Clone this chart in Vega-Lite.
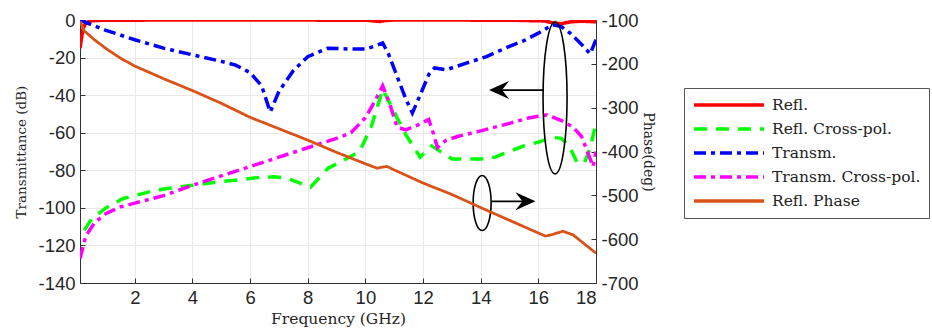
{
  "$schema": "https://vega.github.io/schema/vega-lite/v6.json",
  "width": 516,
  "height": 263,
  "padding": {"left": 14, "top": 11, "right": 0, "bottom": 0},
  "autosize": {"type": "pad"},
  "background": "white",
  "config": {
    "font": "Liberation Sans",
    "view": {"stroke": "#333333", "strokeWidth": 1},
    "axis": {
      "labelFont": "Liberation Sans",
      "labelFontSize": 18.5,
      "labelColor": "#262626",
      "labelOverlap": false,
      "labelExpr": "'' + datum.value",
      "titleFont": "DejaVu Serif",
      "titleFontSize": 14,
      "titleFontWeight": "normal",
      "titleColor": "#262626",
      "domainColor": "#333333",
      "tickColor": "#333333",
      "tickSize": -5,
      "labelPadding": 10,
      "gridColor": "#e9e9e9",
      "gridWidth": 1
    },
    "legend": {
      "labelFont": "DejaVu Serif",
      "labelFontSize": 15.5,
      "labelColor": "#222222"
    }
  },
  "datasets": {
    "left": [
      {"f": 0.1, "v": -15, "s": "Refl."},
      {"f": 0.2, "v": -5, "s": "Refl."},
      {"f": 0.3, "v": -1.5, "s": "Refl."},
      {"f": 0.5, "v": -0.4, "s": "Refl."},
      {"f": 1, "v": -0.1, "s": "Refl."},
      {"f": 5, "v": 0, "s": "Refl."},
      {"f": 10, "v": -0.1, "s": "Refl."},
      {"f": 10.5, "v": -0.8, "s": "Refl."},
      {"f": 10.7, "v": -0.3, "s": "Refl."},
      {"f": 11, "v": 0, "s": "Refl."},
      {"f": 15, "v": -0.1, "s": "Refl."},
      {"f": 16.2, "v": -0.5, "s": "Refl."},
      {"f": 16.5, "v": -1.5, "s": "Refl."},
      {"f": 16.8, "v": -2, "s": "Refl."},
      {"f": 17.1, "v": -1, "s": "Refl."},
      {"f": 17.5, "v": -0.6, "s": "Refl."},
      {"f": 18, "v": -1, "s": "Refl."},

      {"f": 0.25, "v": -112, "s": "Refl. Cross-pol."},
      {"f": 0.5, "v": -106, "s": "Refl. Cross-pol."},
      {"f": 1, "v": -100, "s": "Refl. Cross-pol."},
      {"f": 1.6, "v": -95, "s": "Refl. Cross-pol."},
      {"f": 2.5, "v": -91.5, "s": "Refl. Cross-pol."},
      {"f": 3, "v": -90, "s": "Refl. Cross-pol."},
      {"f": 4, "v": -88, "s": "Refl. Cross-pol."},
      {"f": 5, "v": -86, "s": "Refl. Cross-pol."},
      {"f": 5.7, "v": -85, "s": "Refl. Cross-pol."},
      {"f": 6.2, "v": -84, "s": "Refl. Cross-pol."},
      {"f": 6.8, "v": -83.5, "s": "Refl. Cross-pol."},
      {"f": 7.2, "v": -84, "s": "Refl. Cross-pol."},
      {"f": 7.6, "v": -86, "s": "Refl. Cross-pol."},
      {"f": 8.1, "v": -89, "s": "Refl. Cross-pol."},
      {"f": 8.7, "v": -79, "s": "Refl. Cross-pol."},
      {"f": 9.2, "v": -75, "s": "Refl. Cross-pol."},
      {"f": 9.8, "v": -70, "s": "Refl. Cross-pol."},
      {"f": 10.2, "v": -57, "s": "Refl. Cross-pol."},
      {"f": 10.6, "v": -37, "s": "Refl. Cross-pol."},
      {"f": 10.9, "v": -46, "s": "Refl. Cross-pol."},
      {"f": 11.4, "v": -61, "s": "Refl. Cross-pol."},
      {"f": 11.9, "v": -73, "s": "Refl. Cross-pol."},
      {"f": 12.3, "v": -67, "s": "Refl. Cross-pol."},
      {"f": 13, "v": -74, "s": "Refl. Cross-pol."},
      {"f": 14, "v": -74, "s": "Refl. Cross-pol."},
      {"f": 14.5, "v": -73, "s": "Refl. Cross-pol."},
      {"f": 15, "v": -70, "s": "Refl. Cross-pol."},
      {"f": 15.5, "v": -67, "s": "Refl. Cross-pol."},
      {"f": 16, "v": -65, "s": "Refl. Cross-pol."},
      {"f": 16.5, "v": -62.5, "s": "Refl. Cross-pol."},
      {"f": 16.8, "v": -63, "s": "Refl. Cross-pol."},
      {"f": 17.1, "v": -68, "s": "Refl. Cross-pol."},
      {"f": 17.35, "v": -76, "s": "Refl. Cross-pol."},
      {"f": 17.6, "v": -76, "s": "Refl. Cross-pol."},
      {"f": 17.8, "v": -68, "s": "Refl. Cross-pol."},
      {"f": 18, "v": -55, "s": "Refl. Cross-pol."},

      {"f": 0.1, "v": 0, "s": "Transm."},
      {"f": 0.5, "v": -2.5, "s": "Transm."},
      {"f": 1, "v": -5.5, "s": "Transm."},
      {"f": 2, "v": -10.5, "s": "Transm."},
      {"f": 3, "v": -15, "s": "Transm."},
      {"f": 4, "v": -18.5, "s": "Transm."},
      {"f": 5, "v": -22, "s": "Transm."},
      {"f": 5.5, "v": -24, "s": "Transm."},
      {"f": 6, "v": -28, "s": "Transm."},
      {"f": 6.4, "v": -35, "s": "Transm."},
      {"f": 6.7, "v": -49, "s": "Transm."},
      {"f": 7, "v": -38, "s": "Transm."},
      {"f": 7.5, "v": -27, "s": "Transm."},
      {"f": 8, "v": -19.5, "s": "Transm."},
      {"f": 8.7, "v": -15, "s": "Transm."},
      {"f": 9.5, "v": -15.5, "s": "Transm."},
      {"f": 10, "v": -15.5, "s": "Transm."},
      {"f": 10.4, "v": -13.5, "s": "Transm."},
      {"f": 10.6, "v": -12.2, "s": "Transm."},
      {"f": 10.8, "v": -18, "s": "Transm."},
      {"f": 11.1, "v": -30, "s": "Transm."},
      {"f": 11.4, "v": -42, "s": "Transm."},
      {"f": 11.63, "v": -49.5, "s": "Transm."},
      {"f": 11.9, "v": -40, "s": "Transm."},
      {"f": 12.2, "v": -29, "s": "Transm."},
      {"f": 12.4, "v": -25.5, "s": "Transm."},
      {"f": 12.8, "v": -26.5, "s": "Transm."},
      {"f": 13.5, "v": -23, "s": "Transm."},
      {"f": 14.2, "v": -19.5, "s": "Transm."},
      {"f": 15, "v": -14, "s": "Transm."},
      {"f": 15.5, "v": -11, "s": "Transm."},
      {"f": 16, "v": -7, "s": "Transm."},
      {"f": 16.5, "v": -2.5, "s": "Transm."},
      {"f": 16.8, "v": -3.5, "s": "Transm."},
      {"f": 17.1, "v": -7, "s": "Transm."},
      {"f": 17.5, "v": -13, "s": "Transm."},
      {"f": 17.8, "v": -18, "s": "Transm."},
      {"f": 18, "v": -10.5, "s": "Transm."},

      {"f": 0.1, "v": -127, "s": "Transm. Cross-pol."},
      {"f": 0.3, "v": -115, "s": "Transm. Cross-pol."},
      {"f": 0.6, "v": -108, "s": "Transm. Cross-pol."},
      {"f": 1, "v": -103, "s": "Transm. Cross-pol."},
      {"f": 1.5, "v": -99.5, "s": "Transm. Cross-pol."},
      {"f": 2, "v": -97.5, "s": "Transm. Cross-pol."},
      {"f": 3, "v": -93.5, "s": "Transm. Cross-pol."},
      {"f": 4, "v": -88, "s": "Transm. Cross-pol."},
      {"f": 5, "v": -83, "s": "Transm. Cross-pol."},
      {"f": 6, "v": -78, "s": "Transm. Cross-pol."},
      {"f": 7, "v": -73, "s": "Transm. Cross-pol."},
      {"f": 8, "v": -68, "s": "Transm. Cross-pol."},
      {"f": 9, "v": -63, "s": "Transm. Cross-pol."},
      {"f": 9.5, "v": -60, "s": "Transm. Cross-pol."},
      {"f": 10, "v": -52, "s": "Transm. Cross-pol."},
      {"f": 10.3, "v": -44, "s": "Transm. Cross-pol."},
      {"f": 10.6, "v": -35, "s": "Transm. Cross-pol."},
      {"f": 10.85, "v": -45, "s": "Transm. Cross-pol."},
      {"f": 11.1, "v": -57, "s": "Transm. Cross-pol."},
      {"f": 11.4, "v": -58.5, "s": "Transm. Cross-pol."},
      {"f": 11.8, "v": -56, "s": "Transm. Cross-pol."},
      {"f": 12.2, "v": -53, "s": "Transm. Cross-pol."},
      {"f": 12.35, "v": -60, "s": "Transm. Cross-pol."},
      {"f": 12.5, "v": -68, "s": "Transm. Cross-pol."},
      {"f": 12.8, "v": -64, "s": "Transm. Cross-pol."},
      {"f": 13.2, "v": -62, "s": "Transm. Cross-pol."},
      {"f": 14, "v": -59, "s": "Transm. Cross-pol."},
      {"f": 15, "v": -55, "s": "Transm. Cross-pol."},
      {"f": 15.7, "v": -52, "s": "Transm. Cross-pol."},
      {"f": 16.3, "v": -50.5, "s": "Transm. Cross-pol."},
      {"f": 16.8, "v": -53.5, "s": "Transm. Cross-pol."},
      {"f": 17.2, "v": -57, "s": "Transm. Cross-pol."},
      {"f": 17.5, "v": -62, "s": "Transm. Cross-pol."},
      {"f": 17.75, "v": -72, "s": "Transm. Cross-pol."},
      {"f": 17.9, "v": -78, "s": "Transm. Cross-pol."},
      {"f": 18, "v": -70, "s": "Transm. Cross-pol."}
    ],
    "phase": [
      {"f": 0.1, "v": -103, "s": "Refl. Phase"},
      {"f": 0.25, "v": -125, "s": "Refl. Phase"},
      {"f": 0.6, "v": -145, "s": "Refl. Phase"},
      {"f": 1, "v": -165, "s": "Refl. Phase"},
      {"f": 1.5, "v": -187, "s": "Refl. Phase"},
      {"f": 2, "v": -205, "s": "Refl. Phase"},
      {"f": 3, "v": -234, "s": "Refl. Phase"},
      {"f": 4, "v": -261, "s": "Refl. Phase"},
      {"f": 5, "v": -290, "s": "Refl. Phase"},
      {"f": 6, "v": -322, "s": "Refl. Phase"},
      {"f": 7, "v": -348, "s": "Refl. Phase"},
      {"f": 8, "v": -374, "s": "Refl. Phase"},
      {"f": 9, "v": -402, "s": "Refl. Phase"},
      {"f": 10, "v": -428, "s": "Refl. Phase"},
      {"f": 10.4, "v": -438, "s": "Refl. Phase"},
      {"f": 10.75, "v": -434, "s": "Refl. Phase"},
      {"f": 11, "v": -442, "s": "Refl. Phase"},
      {"f": 12, "v": -472, "s": "Refl. Phase"},
      {"f": 13, "v": -498, "s": "Refl. Phase"},
      {"f": 14, "v": -528, "s": "Refl. Phase"},
      {"f": 15, "v": -557, "s": "Refl. Phase"},
      {"f": 16, "v": -586, "s": "Refl. Phase"},
      {"f": 16.25, "v": -593, "s": "Refl. Phase"},
      {"f": 16.5, "v": -589, "s": "Refl. Phase"},
      {"f": 16.85, "v": -582, "s": "Refl. Phase"},
      {"f": 17.2, "v": -590, "s": "Refl. Phase"},
      {"f": 18, "v": -632, "s": "Refl. Phase"}
    ],
    "ellipses": [
      {"id": "big", "f": 16.58, "v": -41.5},
      {"id": "small", "f": 14.05, "v": -97.4}
    ],
    "arrows": [
      {"dir": "left", "f": 16.19, "f2": 14.6, "tip": 14.29, "v": -37.3},
      {"dir": "right", "f": 14.38, "f2": 15.5, "tip": 15.9, "v": -96.5}
    ]
  },
  "layer": [
    {
      "layer": [
        {
          "data": {"name": "left"},
          "mark": {"type": "line", "strokeWidth": 3.5, "clip": true},
          "encoding": {
            "x": {
              "field": "f", "type": "quantitative",
              "scale": {"domain": [0.1, 18], "nice": false, "zero": false},
              "axis": {"title": "Frequency (GHz)", "values": [2, 4, 6, 8, 10, 12, 14, 16, 18], "tickCount": 20, "grid": true, "titlePadding": 5, "titleFontSize": 15.5, "labelOverlap": false}
            },
            "y": {
              "field": "v", "type": "quantitative",
              "scale": {"domain": [-140, 0], "nice": false, "zero": false},
              "axis": {"title": "Transmittance (dB)", "values": [-140, -120, -100, -80, -60, -40, -20, 0], "tickCount": 20, "grid": true, "titlePadding": 9, "titleFontSize": 13.5, "labelOverlap": false}
            },
            "color": {
              "field": "s", "type": "nominal",
              "scale": {
                "domain": ["Refl.", "Refl. Cross-pol.", "Transm.", "Transm. Cross-pol.", "Refl. Phase"],
                "range": ["#ff0000", "#00ff00", "#0000ff", "#ff00ff", "#d95319"]
              },
              "legend": {
                "title": null,
                "orient": "none",
                "legendX": 604,
                "legendY": 68,
                "symbolType": "M-5,0L5,0",
                "symbolSize": 196,
                "symbolOffset": 28,
                "symbolStrokeWidth": 3.5,
                "strokeColor": "#555555",
                "fillColor": "white",
                "padding": 8,
                "rowPadding": 6,
                "labelOffset": 34
              }
            },
            "strokeDash": {
              "field": "s", "type": "nominal",
              "scale": {
                "domain": ["Refl.", "Refl. Cross-pol.", "Transm.", "Transm. Cross-pol.", "Refl. Phase"],
                "range": [[1, 0], [13, 9], [12, 5, 4, 5], [12, 5, 4, 5], [1, 0]]
              },
              "legend": {
                "title": null,
                "orient": "none",
                "legendX": 604,
                "legendY": 68,
                "symbolType": "M-5,0L5,0",
                "symbolSize": 196,
                "symbolOffset": 28,
                "symbolStrokeWidth": 3.5,
                "strokeColor": "#555555",
                "fillColor": "white",
                "padding": 8,
                "rowPadding": 6,
                "labelOffset": 34
              }
            },
            "order": {"field": "f", "type": "quantitative"}
          }
        },
        {
          "data": {"name": "ellipses"},
          "transform": [{"filter": "datum.id === 'big'"}],
          "mark": {"type": "point", "shape": "M0,-1A0.158,1,0,1,1,0,1A0.158,1,0,1,1,0,-1Z", "size": 23104, "stroke": "black", "strokeWidth": 1.6, "filled": false, "opacity": 1},
          "encoding": {
            "x": {"field": "f", "type": "quantitative"},
            "y": {"field": "v", "type": "quantitative"}
          }
        },
        {
          "data": {"name": "ellipses"},
          "transform": [{"filter": "datum.id === 'small'"}],
          "mark": {"type": "point", "shape": "M0,-1A0.327,1,0,1,1,0,1A0.327,1,0,1,1,0,-1Z", "size": 3025, "stroke": "black", "strokeWidth": 1.6, "filled": false, "opacity": 1},
          "encoding": {
            "x": {"field": "f", "type": "quantitative"},
            "y": {"field": "v", "type": "quantitative"}
          }
        },
        {
          "data": {"name": "arrows"},
          "mark": {"type": "rule", "stroke": "black", "strokeWidth": 1.8},
          "encoding": {
            "x": {"field": "f", "type": "quantitative"},
            "x2": {"field": "f2"},
            "y": {"field": "v", "type": "quantitative"}
          }
        },
        {
          "data": {"name": "arrows"},
          "transform": [{"filter": "datum.dir === 'left'"}],
          "mark": {"type": "point", "shape": "M0,0L1,-0.45L0.65,0L1,0.45Z", "size": 1600, "fill": "black", "filled": true, "opacity": 1, "strokeWidth": 0},
          "encoding": {
            "x": {"field": "tip", "type": "quantitative"},
            "y": {"field": "v", "type": "quantitative"}
          }
        },
        {
          "data": {"name": "arrows"},
          "transform": [{"filter": "datum.dir === 'right'"}],
          "mark": {"type": "point", "shape": "M0,0L-1,-0.45L-0.65,0L-1,0.45Z", "size": 1600, "fill": "black", "filled": true, "opacity": 1, "strokeWidth": 0},
          "encoding": {
            "x": {"field": "tip", "type": "quantitative"},
            "y": {"field": "v", "type": "quantitative"}
          }
        }
      ]
    },
    {
      "data": {"name": "phase"},
      "mark": {"type": "line", "strokeWidth": 2.8, "clip": true},
      "encoding": {
        "x": {"field": "f", "type": "quantitative"},
        "y": {
          "field": "v", "type": "quantitative",
          "scale": {"domain": [-700, -100], "nice": false, "zero": false},
          "axis": {"orient": "right", "title": "Phase(deg)", "values": [-700, -600, -500, -400, -300, -200, -100], "tickCount": 20, "grid": false, "titlePadding": 2, "labelOverlap": false}
        },
        "color": {"field": "s", "type": "nominal"},
        "strokeDash": {"field": "s", "type": "nominal"}
      }
    }
  ],
  "resolve": {"scale": {"y": "independent"}}
}
